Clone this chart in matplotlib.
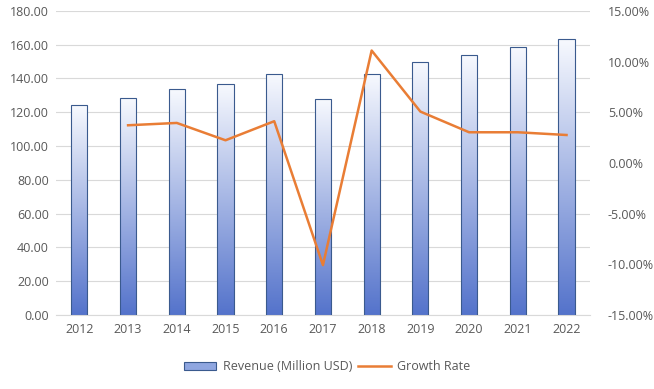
import numpy as np
import matplotlib
matplotlib.use('Agg')
import matplotlib.pyplot as plt
from matplotlib.colors import LinearSegmentedColormap
from matplotlib.patches import Patch
from matplotlib.lines import Line2D
from matplotlib.ticker import FuncFormatter

# data
years = ['2012', '2013', '2014', '2015', '2016', '2017', '2018', '2019', '2020', '2021', '2022']
revenue = [124.2, 128.3, 133.6, 136.6, 142.5, 127.7, 142.5, 149.6, 153.7, 158.5, 163.2]
growth_years = years[1:]
growth = [3.72, 3.95, 2.24, 4.12, -10.07, 11.09, 5.07, 3.03, 3.03, 2.76]

plt.rcParams['font.family'] = ['Open Sans', 'DejaVu Sans']
txt = '#595959'
grid_c = '#D9D9D9'

fig = plt.figure(figsize=(6.54, 3.89), dpi=100)
ax = fig.add_axes([0.0856, 0.19, 0.8164, 0.782])
ax2 = ax.twinx()

x = np.arange(len(years))
bw = 0.33
cmap = LinearSegmentedColormap.from_list('g', ['#5473CB', '#F7F9FE'])
grad = np.linspace(0, 1, 256).reshape(-1, 1)

bars = ax.bar(x, revenue, width=bw, color='none', edgecolor='#3A5A8E', linewidth=0.8, zorder=3)
for b in bars:
    x0, w, h = b.get_x(), b.get_width(), b.get_height()
    im = ax.imshow(grad, cmap=cmap, aspect='auto', origin='lower',
                   extent=[x0, x0 + w, 0, h], zorder=2)
    im.set_clip_path(b)

ax.set_xlim(-0.48, len(years) - 0.52)
ax.set_ylim(0, 180)
ax.set_yticks(np.arange(0, 181, 20))
ax.yaxis.set_major_formatter(FuncFormatter(lambda v, p: f'{v:.2f}'))
ax.set_xticks(x)
ax.set_xticklabels(years)
ax.grid(axis='y', color=grid_c, linewidth=0.8, zorder=0)
ax.set_axisbelow(True)

gx = x[1:]
ax2.plot(gx, growth, color='#E97D35', linewidth=1.8, zorder=5)
ax2.set_ylim(-15, 15)
ax2.set_yticks(np.arange(-15, 16, 5))
ax2.yaxis.set_major_formatter(FuncFormatter(lambda v, p: f'{v:.2f}%'))

for a in (ax, ax2):
    for s in a.spines.values():
        s.set_visible(False)
    a.tick_params(length=0, colors=txt, labelsize=9)
ax.spines['bottom'].set_visible(True)
ax.spines['bottom'].set_color(grid_c)
ax.tick_params(axis='x', pad=6)
ax.tick_params(axis='y', pad=5)
ax2.tick_params(axis='y', pad=13)

handles = [Patch(facecolor='#8FA6E0', edgecolor='#3A5A8E', linewidth=0.8),
           Line2D([0], [0], color='#E97D35', linewidth=1.8)]
fig.legend(handles, ['Revenue (Million USD)', 'Growth Rate'], loc='center',
           bbox_to_anchor=(0.5, 0.057), ncol=2, frameon=False, fontsize=9,
           labelcolor=txt, handlelength=2.6, columnspacing=0.5, handletextpad=0.5)

fig.savefig('out.png', dpi=100)
